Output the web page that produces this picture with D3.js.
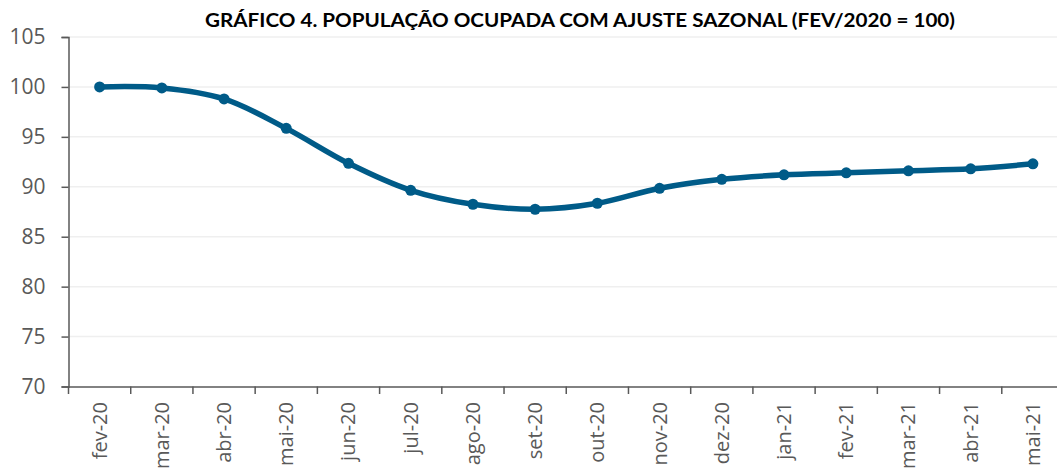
<!DOCTYPE html>
<html><head><meta charset="utf-8">
<script src="https://cdn.jsdelivr.net/npm/d3@7"></script>
<style>body{margin:0;background:#fff;overflow:hidden}svg{display:block}</style>
</head><body>
<svg id="c" width="1057" height="470"></svg>
<script>
const categories = ["fev-20","mar-20","abr-20","mai-20","jun-20","jul-20","ago-20","set-20","out-20","nov-20","dez-20","jan-21","fev-21","mar-21","abr-21","mai-21"];
const values = [100.0,99.9,98.8,95.85,92.35,89.65,88.25,87.75,88.35,89.85,90.75,91.2,91.4,91.6,91.8,92.3];
const yTicks = [70,75,80,85,90,95,100,105];
const title = "GRÁFICO 4. POPULAÇÃO OCUPADA COM AJUSTE SAZONAL (FEV/2020 = 100)";

const svg = d3.select("#c");
const x = d3.scaleBand().domain(categories).range([68.5, 1064]);
const y = d3.scaleLinear().domain([70,105]).range([386.5, 37]);
const axisColor = "#595959";
const font = "'Open Sans', sans-serif";

// grid
svg.append("g").selectAll("line").data(yTicks.filter(t=>t>70)).join("line")
  .attr("x1",69).attr("x2",1057).attr("y1",d=>y(d)).attr("y2",d=>y(d))
  .attr("stroke","#efefef").attr("stroke-width",1.5);

// y axis
const ya = svg.append("g").attr("transform","translate(68.5,0)")
  .call(d3.axisLeft(y).tickValues(yTicks).tickSize(7).tickPadding(16));
ya.select(".domain").attr("stroke",axisColor).attr("stroke-width",1.5);
ya.selectAll(".tick line").attr("stroke",axisColor).attr("stroke-width",1.5);
ya.selectAll("text").attr("fill","#595959").attr("font-family",font).attr("font-size",21);

// x axis
const xa = svg.append("g").attr("transform","translate(0,386.5)")
  .call(d3.axisBottom(x).tickSize(0).tickFormat(""));
xa.select(".domain").attr("stroke",axisColor).attr("stroke-width",1.5);
const bounds = categories.map(c=>x(c));
svg.append("g").selectAll("line").data(bounds).join("line")
  .attr("x1",d=>d).attr("x2",d=>d).attr("y1",386.5).attr("y2",394)
  .attr("stroke",axisColor).attr("stroke-width",1.5);
svg.append("g").selectAll("text").data(categories).join("text")
  .attr("transform",d=>`translate(${x(d)+x.bandwidth()/2+7},402) rotate(-90)`)
  .attr("text-anchor","end").attr("fill","#595959")
  .attr("font-family",font).attr("font-size",20)
  .text(d=>d);

// line
const pts = categories.map((c,i)=>[x(c)+x.bandwidth()/2, y(values[i])]);
svg.append("path").datum(pts)
  .attr("d", d3.line().curve(d3.curveCatmullRom.alpha(0.5)))
  .attr("fill","none").attr("stroke","#005b88").attr("stroke-width",5.5).attr("stroke-linecap","round");
svg.append("g").selectAll("circle").data(pts).join("circle")
  .attr("cx",d=>d[0]).attr("cy",d=>d[1]).attr("r",5.5).attr("fill","#005b88");

// title
svg.append("text").attr("x",580).attr("y",27).attr("text-anchor","middle")
  .attr("font-family","Lato, sans-serif").attr("font-weight","bold")
  .attr("font-size",19).attr("fill","#000")
  .attr("textLength",750).attr("lengthAdjust","spacingAndGlyphs")
  .text(title);
</script>
</body></html>
